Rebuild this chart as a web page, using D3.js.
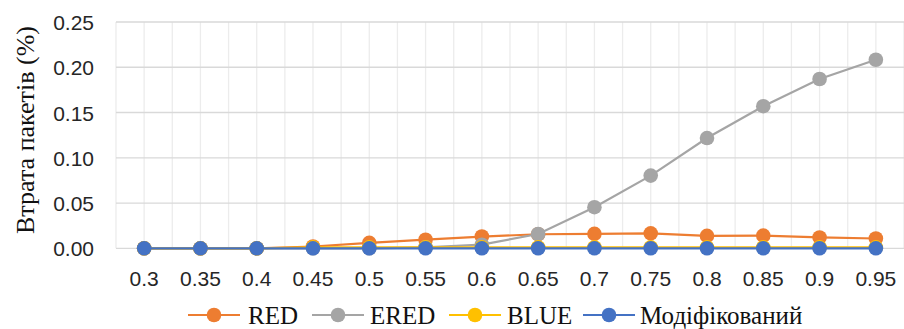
<!DOCTYPE html>
<html lang="uk">
<head>
<meta charset="utf-8">
<script src="https://cdn.jsdelivr.net/npm/d3@7/dist/d3.min.js"></script>
<style>
  html, body { margin: 0; padding: 0; background: #fff; }
  svg { display: block; }
</style>
</head>
<body>
<svg id="chart" width="904" height="329"></svg>
<script>
// Load factor values on the horizontal axis
const categories = ["0.3", "0.35", "0.4", "0.45", "0.5", "0.55", "0.6", "0.65", "0.7", "0.75", "0.8", "0.85", "0.9", "0.95"];

// Packet loss (%) for each queue management algorithm
const redValues  = [0, 0, 0, 0.002, 0.006, 0.0095, 0.013, 0.0155, 0.016, 0.0165, 0.0137, 0.014, 0.012, 0.0108];
const eredValues = [0, 0, 0, 0, 0, 0.001, 0.004, 0.0158, 0.0454, 0.0803, 0.1218, 0.157, 0.187, 0.2083];
const blueValues = [0, 0, 0, 0.001, 0.001, 0.001, 0.001, 0.001, 0.001, 0.001, 0.001, 0.001, 0.001, 0.001];
const modValues  = [0, 0, 0, 0, 0, 0, 0, 0, 0, 0, 0, 0, 0, 0];

const seriesNames  = ["RED", "ERED", "BLUE", "Модіфікований"];
const seriesColors = ["#ED7D31", "#A5A5A5", "#FFC000", "#4472C4"];
const yTicks = [0, 0.05, 0.10, 0.15, 0.20, 0.25];
const yTitle = "Втрата пакетів (%)";

const serif = '"Liberation Serif", "Times New Roman", serif';
const sans = '"Liberation Sans", Arial, sans-serif';

const series = [redValues, eredValues, blueValues, modValues].map((vals, i) => ({
  name: seriesNames[i],
  color: seriesColors[i],
  values: vals.map((v, j) => ({ cat: categories[j], v }))
}));

const svg = d3.select("#chart");
const plot = { left: 116, right: 904, top: 22, bottom: 248.3 };

const x = d3.scaleBand().domain(categories).range([plot.left, plot.right]).padding(0);
const y = d3.scaleLinear().domain([0, 0.25]).range([plot.bottom, plot.top]);
const cx = c => x(c) + x.bandwidth() / 2;

// Vertical gridlines at category edges and centres
const vLines = [];
categories.forEach(c => { vLines.push(x(c)); vLines.push(cx(c)); });
vLines.push(plot.right);
svg.append("g").selectAll("line").data(vLines).join("line")
  .attr("x1", d => d).attr("x2", d => d)
  .attr("y1", plot.top).attr("y2", plot.bottom)
  .attr("stroke", "#ececec").attr("stroke-width", 1.3);

// Horizontal gridlines
svg.append("g").selectAll("line").data(yTicks).join("line")
  .attr("x1", plot.left).attr("x2", plot.right)
  .attr("y1", d => y(d)).attr("y2", d => y(d))
  .attr("stroke", "#d9d9d9").attr("stroke-width", 1.3);

// Y axis labels
const yAxis = d3.axisLeft(y).tickValues(yTicks).tickFormat(d3.format(".2f")).tickSize(0).tickPadding(0);
const gy = svg.append("g").attr("transform", `translate(${plot.left - 22},0)`).call(yAxis);
gy.select(".domain").remove();
gy.selectAll("text")
  .style("font-family", sans)
  .style("font-size", "21px").attr("fill", "#262626").attr("dy", "0.36em");

// X axis labels
const xAxis = d3.axisBottom(x).tickSize(0).tickPadding(0);
const gx = svg.append("g").attr("transform", `translate(0,${plot.bottom + 22})`).call(xAxis);
gx.select(".domain").remove();
gx.selectAll("text")
  .style("font-family", sans)
  .style("font-size", "21px").attr("fill", "#262626").attr("dy", "0.75em");

// Y axis title, sized to span the plot height
const title = svg.append("text")
  .attr("text-anchor", "middle")
  .style("font-family", serif)
  .style("font-size", "23px").attr("fill", "#111")
  .text(yTitle);
const titleLen = title.node().getComputedTextLength();
title.style("font-size", Math.min(26, 23 * 214 / titleLen) + "px")
  .attr("transform", "translate(34,130) rotate(-90)");

// Lines and markers
const line = d3.line().x(d => cx(d.cat)).y(d => y(d.v));
series.forEach(s => {
  const g = svg.append("g");
  g.append("path").datum(s.values)
    .attr("d", line).attr("fill", "none")
    .attr("stroke", s.color).attr("stroke-width", 2.2);
  g.selectAll("circle").data(s.values).join("circle")
    .attr("cx", d => cx(d.cat)).attr("cy", d => y(d.v)).attr("r", 7.3)
    .attr("fill", s.color);
});

// Legend
const legendY = 315;
const legendItems = [
  { lineX: 188, textX: 248, width: 50 },
  { lineX: 312, textX: 370, width: 70 },
  { lineX: 449, textX: 507, width: 68 },
  { lineX: 583, textX: 640, width: 170 }
];
series.forEach((s, i) => {
  const it = legendItems[i];
  const g = svg.append("g");
  g.append("line")
    .attr("x1", it.lineX).attr("x2", it.lineX + 52)
    .attr("y1", legendY).attr("y2", legendY)
    .attr("stroke", s.color).attr("stroke-width", 2.2);
  g.append("circle").attr("cx", it.lineX + 26).attr("cy", legendY).attr("r", 7.3).attr("fill", s.color);
  const t = g.append("text")
    .attr("x", it.textX).attr("y", legendY).attr("dy", "0.35em")
    .style("font-family", serif)
    .style("font-size", "23px").attr("fill", "#111")
    .text(s.name);
  // fit each entry into its slot width
  const len = t.node().getComputedTextLength();
  t.style("font-size", Math.min(25, 23 * it.width / len) + "px");
});
</script>
</body>
</html>
